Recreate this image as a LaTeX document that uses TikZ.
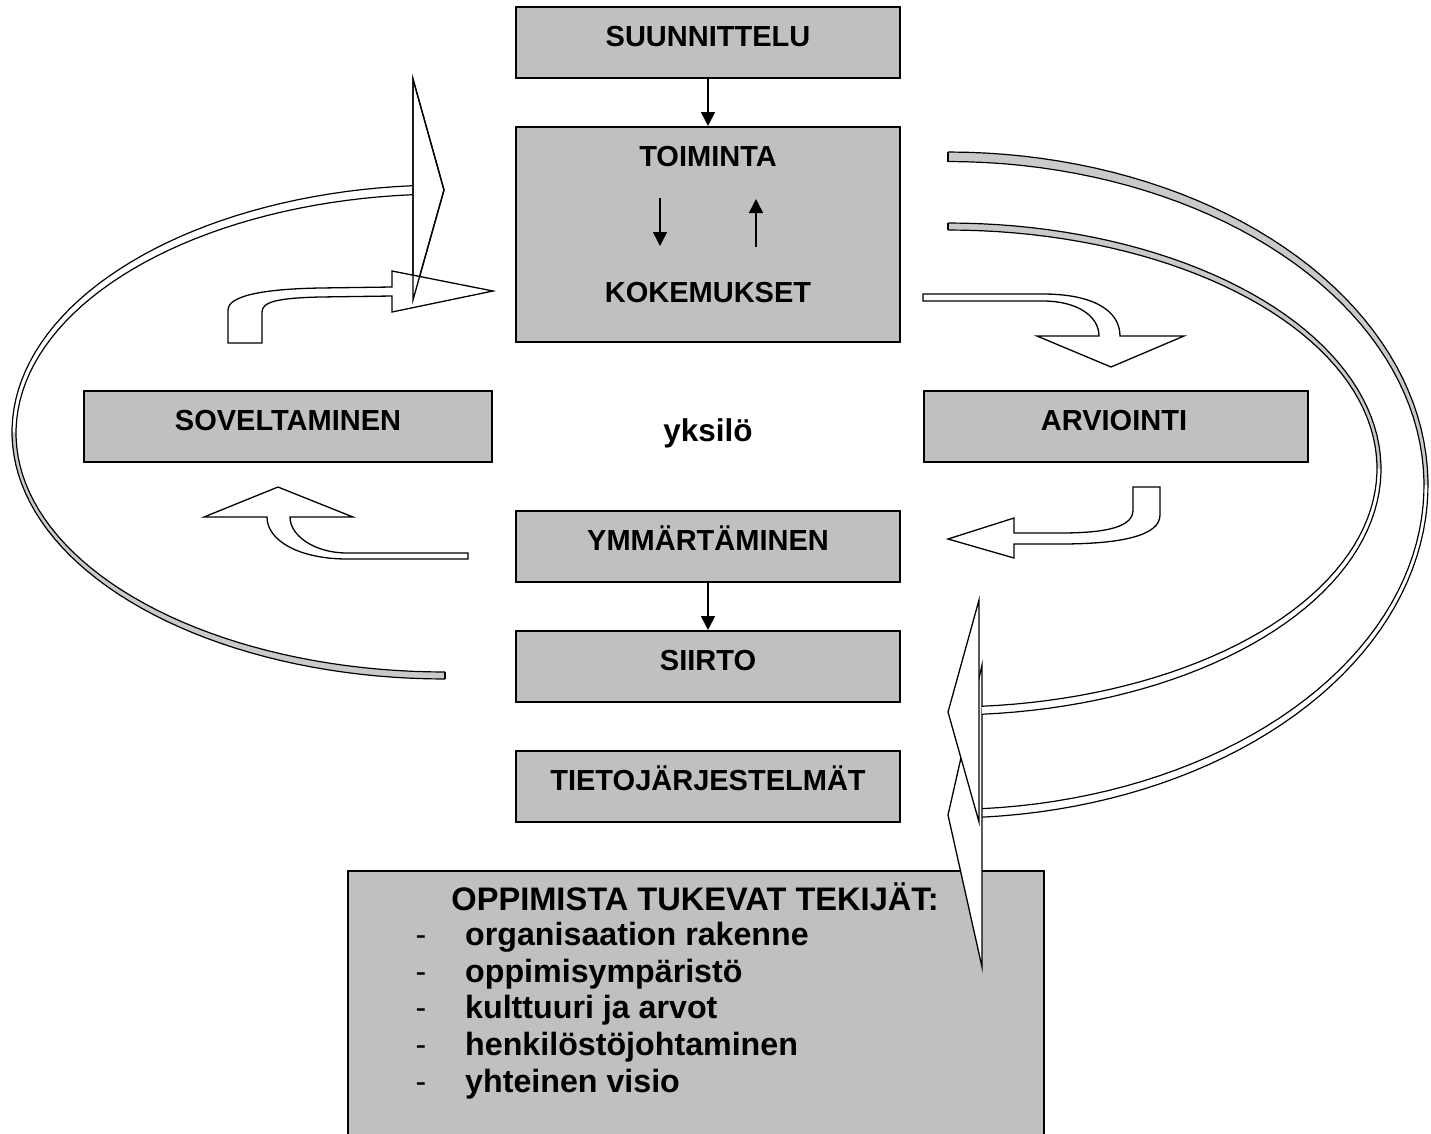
\documentclass[tikz,border=0pt]{standalone}
\usepackage{fontspec}
\setmainfont{Liberation Sans}
\usetikzlibrary{arrows.meta}
\definecolor{boxgray}{HTML}{C0C0C0}
\definecolor{bandgray}{HTML}{CACACA}
\begin{document}
\begin{tikzpicture}[x=1pt,y=-1pt,
  box/.style={draw=black, line width=2pt, fill=boxgray, minimum width=384pt, minimum height=71pt, inner sep=0pt},
  lbl/.style={anchor=base, inner sep=0pt, font=\fontsize{29}{34}\selectfont\bfseries},
  blbl/.style={anchor=base west, inner sep=0pt, font=\fontsize{32.2}{37}\selectfont\bfseries},
  dashlbl/.style={anchor=base, inner sep=0pt, font=\fontsize{32}{37}\selectfont},
  conn/.style={line width=1.5pt, -{Triangle[width=14pt,length=14pt]}},
  hollow/.style={draw=black, fill=white, line width=1.3pt, line join=miter},
  bandline/.style={draw=black, line width=1.2pt},
]
\useasboundingbox (0,0) rectangle (1431,1133);
\clip (0,0) rectangle (1431,1133);

% ---------- boxes ----------
\node[box] (sun) at (708,42.5) {};
\node[box, minimum height=215pt] (toi) at (708,234.5) {};
\node[box, minimum width=408pt] (sov) at (288,426.5) {};
\node[box] (arv) at (1116,426.5) {};
\node[box] (ymm) at (708,546.5) {};
\node[box] (sii) at (708,666.5) {};
\node[box] (tie) at (708,786.5) {};
\node[box, minimum width=696pt, minimum height=300pt] (opp) at (696,1021) {};

% ---------- texts ----------
\node[lbl] (tsun) at (708,46) {SUUNNITTELU};
\node[lbl] (ttoi) at (708,166) {TOIMINTA};
\node[lbl] (tkok) at (708,302) {KOKEMUKSET};
\node[lbl] (tsov) at (288,430) {SOVELTAMINEN};
\node[lbl, font=\fontsize{31.5}{36}\selectfont\bfseries] (tyks) at (708,441) {yksilö};
\node[lbl] (tarv) at (1114,430) {ARVIOINTI};
\node[lbl] (tymm) at (708,550) {YMMÄRTÄMINEN};
\node[lbl] (tsii) at (708,670) {SIIRTO};
\node[lbl] (ttie) at (708,790) {TIETOJÄRJESTELMÄT};
\node[lbl, font=\fontsize{32.6}{37}\selectfont\bfseries] (topp) at (695,910) {OPPIMISTA TUKEVAT TEKIJÄT:};
\foreach \yy/\tx [count=\i] in {945/organisaation rakenne, 982/oppimisympäristö, 1018/kulttuuri ja arvot, 1055/henkilöstöjohtaminen, 1092/yhteinen visio}{
  \node[dashlbl] (dash\i) at (421,\yy) {-};
  \node[blbl] (item\i) at (465,\yy) {\tx};
}

% ---------- straight arrows ----------
\coordinate (d1) at (660,198); \coordinate (d2) at (660,246);
\coordinate (u1) at (756,247); \coordinate (u2) at (756,199);
\draw[conn] (sun.south) -- (toi.north);
\draw[conn] (d1) -- (d2);
\draw[conn] (u1) -- (u2);
\draw[conn] (ymm.south) -- (sii.north);

% ---------- left big band ----------
\fill[white] plot[domain=94.4:180, samples=40, variable=\t] ({445+433*cos(\t)},{432-247*sin(\t)})
  -- plot[domain=180:94.4, samples=40, variable=\t] ({445+429*cos(\t)},{433-239*sin(\t)}) -- cycle;
\fill[bandgray] plot[domain=180:270, samples=40, variable=\t] ({445+433*cos(\t)},{432-247*sin(\t)})
  -- plot[domain=270:180, samples=40, variable=\t] ({445+429*cos(\t)},{433-239*sin(\t)}) -- cycle;
\draw[bandline] plot[domain=94.4:270, samples=80, variable=\t] ({445+433*cos(\t)},{432-247*sin(\t)});
\draw[bandline] plot[domain=94.4:270, samples=80, variable=\t] ({445+429*cos(\t)},{433-239*sin(\t)});
\draw[bandline] (445,679) -- (445,672);

% ---------- right outer band ----------
\fill[bandgray] plot[domain=90:0, samples=40, variable=\t] ({948+480*cos(\t)},{485-333*sin(\t)})
  -- plot[domain=0:90, samples=40, variable=\t] ({948+476*cos(\t)},{485.5-324*sin(\t)}) -- cycle;
\fill[white] plot[domain=0:-85.9, samples=40, variable=\t] ({948+480*cos(\t)},{485-333*sin(\t)})
  -- plot[domain=-85.9:0, samples=40, variable=\t] ({948+476*cos(\t)},{485.5-324*sin(\t)}) -- cycle;
\draw[bandline] plot[domain=90:-85.9, samples=80, variable=\t] ({948+480*cos(\t)},{485-333*sin(\t)});
\draw[bandline] plot[domain=90:-85.9, samples=80, variable=\t] ({948+476*cos(\t)},{485.5-324*sin(\t)});
\draw[bandline] (948,152) -- (948,161.5);

% arrowhead B
\draw[hollow] (982,665) -- (948,815) -- (982,967) -- cycle;

% ---------- right inner band ----------
\fill[bandgray] plot[domain=90:0, samples=40, variable=\t] ({948+433*cos(\t)},{469-246*sin(\t)})
  -- plot[domain=0:90, samples=40, variable=\t] ({948+429*cos(\t)},{468.5-238.5*sin(\t)}) -- cycle;
\fill[white] plot[domain=0:-85.5, samples=40, variable=\t] ({948+433*cos(\t)},{469-246*sin(\t)})
  -- plot[domain=-85.5:0, samples=40, variable=\t] ({948+429*cos(\t)},{468.5-238.5*sin(\t)}) -- cycle;
\draw[bandline] plot[domain=90:-85.5, samples=80, variable=\t] ({948+433*cos(\t)},{469-246*sin(\t)});
\draw[bandline] plot[domain=90:-85.5, samples=80, variable=\t] ({948+429*cos(\t)},{468.5-238.5*sin(\t)});
\draw[bandline] (948,223) -- (948,230);

% arrowhead A
\draw[hollow] (979,600) -- (948,712) -- (979,822) -- cycle;

% ---------- left big arrowhead ----------
\draw[hollow] (413,79) -- (444,190) -- (413,300) -- cycle;

% ---------- small curved arrows ----------
% top-left: up then right
\draw[hollow] (228,343) -- (228,310) .. controls (228,296) and (262,289) .. (320,288) -- (392,287)
  -- (392,271) -- (493,291) -- (392,312) -- (392,296) -- (320,297)
  .. controls (277,298) and (262,302) .. (262,312) -- (262,343) -- cycle;
\draw[draw=black, line width=1.3pt] (413,79) -- (444,190) -- (413,300) -- cycle;
% top-right: right then down
\draw[hollow] (923,294) -- (1043,294) .. controls (1092,294) and (1120,310) .. (1120,336)
  -- (1184,336) -- (1111,367) -- (1037,336) -- (1099,336)
  .. controls (1099,316) and (1077,301) .. (1043,301) -- (923,301) -- cycle;
% bottom-right: down then left
\draw[hollow] (1133,487) -- (1160,487) -- (1160,515) .. controls (1160,536) and (1120,544) .. (1060,544)
  -- (1014,544) -- (1014,558) -- (948,539) -- (1014,518) -- (1014,533) -- (1060,533)
  .. controls (1110,533) and (1133,526) .. (1133,510) -- cycle;
% bottom-left: left then up
\draw[hollow] (468,553) -- (468,559) -- (347,559) .. controls (300,559) and (267,541) .. (267,517)
  -- (204,517) -- (278,487) -- (353,517) -- (290,517)
  .. controls (290,536) and (315,553) .. (347,553) -- cycle;
\end{tikzpicture}
\end{document}
